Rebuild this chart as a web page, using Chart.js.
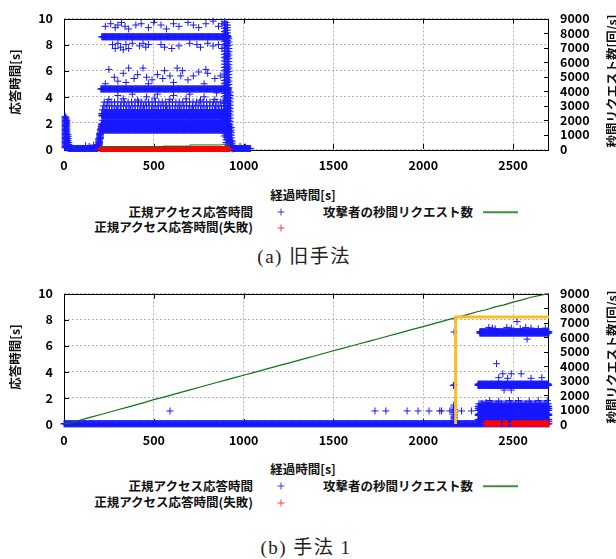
<!DOCTYPE html>
<html><head><meta charset="utf-8">
<script src="https://cdn.jsdelivr.net/npm/chart.js@4.4.1/dist/chart.umd.min.js"></script>
<style>
html,body{margin:0;padding:0;background:#fff;width:616px;height:559px;overflow:hidden;position:relative}
canvas{position:absolute;left:0}
.t{position:absolute;font-family:"Noto Sans CJK JP","Noto Sans",sans-serif;font-weight:bold;font-size:12.5px;color:#111;white-space:nowrap;line-height:1}
.c{transform:translate(-50%,-50%)}
.r{transform:translate(-100%,-50%)}
.rot{transform:translate(-50%,-50%) rotate(-90deg)}
.cap{position:absolute;font-family:"Liberation Serif","DejaVu Serif","Noto Sans CJK JP",serif;font-size:19px;letter-spacing:1.5px;color:#222;white-space:nowrap;line-height:1;transform:translate(-50%,-50%)}
.mk{position:absolute;width:7px;height:7px;transform:translate(-50%,-50%)}
.mk:before{content:"";position:absolute;left:0;top:3px;width:7px;height:1px;background:currentColor}
.mk:after{content:"";position:absolute;left:3px;top:0;width:1px;height:7px;background:currentColor}
.ln{position:absolute;height:1.5px;background:#3c923c;transform:translateY(-50%)}
</style></head><body>
<canvas id="cv1" width="616" height="180" style="top:0px;width:616px;height:180px"></canvas>
<canvas id="cv2" width="616" height="180" style="top:275px;width:616px;height:180px"></canvas>

<div class="t rot" style="left:15px;top:82px">応答時間[s]</div>
<div class="t rot" style="left:612px;top:81px">秒間リクエスト数[回/s]</div>
<div class="t c" style="left:303px;top:195px">経過時間[s]</div>
<div class="t r" style="left:253px;top:212px">正規アクセス応答時間</div>
<div class="mk" style="left:281px;top:212px;color:#3a3aff"></div>
<div class="t r" style="left:473px;top:212px">攻撃者の秒間リクエスト数</div>
<div class="ln" style="left:483px;top:212px;width:35px"></div>
<div class="t r" style="left:253px;top:227px">正規アクセス応答時間(失敗)</div>
<div class="mk" style="left:281px;top:228px;color:#ff4040"></div>
<div class="cap" style="left:304px;top:256px">(a) 旧手法</div>

<div class="t rot" style="left:15px;top:357px">応答時間[s]</div>
<div class="t rot" style="left:612px;top:357px">秒間リクエスト数[回/s]</div>
<div class="t c" style="left:303px;top:469px">経過時間[s]</div>
<div class="t r" style="left:253px;top:486px">正規アクセス応答時間</div>
<div class="mk" style="left:281px;top:486px;color:#3a3aff"></div>
<div class="t r" style="left:473px;top:486px">攻撃者の秒間リクエスト数</div>
<div class="ln" style="left:483px;top:486px;width:35px"></div>
<div class="t r" style="left:253px;top:502px">正規アクセス応答時間(失敗)</div>
<div class="mk" style="left:281px;top:503px;color:#ff4040"></div>
<div class="cap" style="left:306px;top:547px">(b) 手法 1</div>

<script>
// ---------- axis ticks ----------
const xTicks = [0, 500, 1000, 1500, 2000, 2500];
const yTicksLeft = [0, 2, 4, 6, 8, 10];
const yTicksRight = [0, 1000, 2000, 3000, 4000, 5000, 6000, 7000, 8000, 9000];

// ---------- (a) 旧手法 ----------
// attacker requests per second (right axis)
const attackTimeA = [200, 550, 552, 700, 702, 880, 882, 915, 920];
const attackRateA = [150, 150, 200, 200, 280, 280, 330, 330, 0];
// dense bands of legitimate response times: [start s, end s, step s, value s]
const okBandsA = [
  [30, 186, 3, 0.04], [940, 1040, 3, 0.04],
  [212, 918, 3, 1.45], [206, 918, 3, 1.6], [207, 918, 3, 1.75], [208, 916, 3, 1.9],
  [215, 912, 9, 2.2],
  [210, 914, 3, 2.55], [210, 914, 3, 2.7],
  [214, 905, 13, 3.0], [219, 905, 16, 3.3], [224, 905, 19, 3.6],
  [205, 918, 3, 4.6],
  [210, 915, 3, 8.6]
];
// vertical columns of points: [time s, from value, to value, step]
const okColumnsA = [
  [6, 0.1, 2.5, 0.1], [11, 0.1, 2.4, 0.1], [16, 0.1, 2.2, 0.15], [22, 0.05, 1.2, 0.15], [27, 0.05, 0.5, 0.15],
  [188, 0.05, 0.4, 0.1], [193, 0.1, 0.8, 0.1], [198, 0.3, 1.2, 0.1], [203, 0.8, 1.5, 0.1],
  [893, 1.0, 9.9, 0.25], [902, 0.5, 9.8, 0.2], [910, 0.3, 9.6, 0.2], [918, 0.2, 8.5, 0.25],
  [925, 0.1, 4.5, 0.25], [931, 0.05, 1.8, 0.2], [936, 0.0, 0.6, 0.15]
];
// scattered single responses
const okOutliersA = [
  [230,9.4],[260,9.6],[285,9.3],[300,9.5],[320,9.7],[340,9.4],[360,9.2],[400,9.5],[430,9.6],[470,9.3],
  [500,9.7],[540,9.5],[570,9.2],[610,9.6],[640,9.4],[690,9.7],[720,9.5],[750,9.3],[790,9.6],[830,9.8],[860,9.4],[880,9.6],
  [270,8.0],[285,7.7],[300,8.1],[315,7.8],[330,7.6],[345,8.0],[360,7.7],[380,8.1],[420,7.9],[440,8.1],[455,7.8],
  [470,8.0],[540,8.0],[560,7.8],[600,7.7],[640,7.9],[700,8.1],[740,8.0],[760,7.8],[800,8.1],[830,7.9],[860,8.0],[880,7.7],
  [250,6.1],[280,5.5],[300,5.2],[330,5.8],[360,6.2],[390,5.4],[410,5.7],[440,6.2],[460,5.5],[490,5.3],[520,5.7],
  [550,5.4],[590,5.6],[630,6.2],[660,6.0],[690,5.3],[720,5.6],[750,5.9],[790,6.1],[800,5.8],[840,5.4],[870,5.6],
  [230,5.0],[345,5.1],[470,5.0],[610,5.1],[780,5.0],[650,5.6],[560,6.0],
  [300,4.1],[380,4.2],[460,4.0],[520,4.2],[610,4.1],[700,4.2],[780,4.0],[850,4.3],
  [250,3.8],[330,3.85],[410,3.75],[505,3.9],[590,3.8],[680,3.85],[760,3.75],[840,3.8],
  [120,0.25],[140,0.2],[165,0.3],[980,0.2],[1010,0.15]
];
// failed responses: [start, end, step, value]
const ngBandsA = [[200, 922, 2, 0.0]];

// ---------- (b) 手法 1 ----------
const attackTimeB = [0,50,100,150,200,250,300,350,400,450,500,550,600,650,700,750,800,850,900,950,1000,
  1050,1100,1150,1200,1250,1300,1350,1400,1450,1500,1550,1600,1650,1700,1750,1800,1850,1900,1950,2000,
  2050,2100,2150,2200,2250,2300,2350,2400,2450,2500,2550,2600,2650,2700];
const attackRateB = [0,120,300,470,640,810,980,1150,1320,1490,1680,1840,2010,2180,2350,2520,2690,2860,3030,3200,3360,
  3530,3700,3870,4040,4200,4370,4540,4710,4880,5050,5210,5380,5550,5720,5880,6050,6220,6390,6560,6720,
  6890,7060,7230,7390,7560,7740,7880,8080,8220,8410,8560,8740,8870,9000];
const okBandsB = [
  [0, 2700, 3, 0.02],
  [2306, 2700, 3, 0.2], [2306, 2700, 3, 0.35], [2306, 2700, 3, 0.65], [2306, 2700, 3, 0.75],
  [2306, 2700, 3, 1.05], [2306, 2700, 3, 1.2], [2306, 2700, 3, 1.35],
  [2310, 2700, 7, 1.55],
  [2305, 2700, 3, 2.95], [2305, 2700, 3, 3.05],
  [2315, 2700, 3, 6.97], [2315, 2700, 3, 7.07]
];
const okColumnsB = [
  [2170, 0.1, 1.5, 0.15], [2174, 0.1, 1.2, 0.2]
];
const okOutliersB = [
  [590,1.0],[1731,1.0],[1792,1.0],[1910,1.0],[1971,1.0],[2032,1.0],[2092,1.0],[2102,1.0],[2148,1.0],[2213,1.0],[2269,1.0],
  [2172,3.0],[2168,2.95],[2172,7.05],
  [2522,7.85],[2578,6.5],[2408,4.62],
  [2365,7.4],[2385,7.35],[2400,7.3],[2465,7.4],[2490,7.35],[2540,7.3],[2570,7.4],[2600,7.35],[2640,7.3],[2680,7.35],
  [2443,3.85],[2490,3.85],[2545,3.85],[2420,3.55],[2470,3.5],[2600,3.5],[2660,3.55],[2450,2.6],[2490,2.6],
  [2370,1.8],[2420,1.75],[2480,1.8],[2530,1.8],[2590,1.75],[2640,1.8],[2690,1.8],[2350,1.65]
];
const ngBandsB = [[2343, 2430, 2, 0.03], [2445, 2470, 2, 0.03], [2492, 2700, 2, 0.03]];
// highlighted region (orange frame)
const frameTimeB = [2180, 2180, 2700];
const frameValueB = [0, 8.2, 8.2];

// ---------- helpers ----------
function expandBands(b){const p=[];for(const [t0,t1,s,v] of b){for(let t=t0;t<=t1;t+=s)p.push({x:t,y:v});}return p;}
function expandColumns(c){const p=[];for(const [t,a,b,s] of c){for(let v=a;v<=b+1e-9;v+=s)p.push({x:t,y:v});}return p;}
function pairs(list){return list.map(([x,y])=>({x,y}));}
function zipXY(xs,ys){return xs.map((x,i)=>({x,y:ys[i]}));}

const BLUE='rgb(25,25,255)', RED='rgb(255,0,0)', GREEN='#0d760d', ORANGE='#fbbd23';
const tickFont={family:'"Noto Sans CJK JP","Noto Sans",sans-serif',size:12.5,weight:'bold'};

const framePlugin={
  id:'frame',
  beforeDatasetsDraw(chart){
    const {ctx,chartArea:a,scales}=chart;
    ctx.save();
    ctx.strokeStyle='#000';ctx.lineWidth=1;
    ctx.strokeRect(Math.round(a.left)+0.5,Math.round(a.top)+0.5,Math.round(a.right-a.left)-1,Math.round(a.bottom-a.top));
    ctx.beginPath();
    for(const v of xTicks){const x=Math.round(scales.x.getPixelForValue(v))+0.5;if(v===0)continue;
      ctx.moveTo(x,a.bottom);ctx.lineTo(x,a.bottom-5);ctx.moveTo(x,a.top);ctx.lineTo(x,a.top+5);}
    for(const v of yTicksLeft){const y=Math.round(scales.y.getPixelForValue(v))+0.5;if(v===0||v===10)continue;
      ctx.moveTo(a.left,y);ctx.lineTo(a.left+5,y);}
    for(const v of yTicksRight){const y=Math.round(scales.y2.getPixelForValue(v))+0.5;if(v===0)continue;
      ctx.moveTo(a.right,y);ctx.lineTo(a.right-5,y);}
    ctx.stroke();ctx.restore();
  }
};

function makeChart(id,datasets){
  return new Chart(document.getElementById(id),{
    type:'scatter',
    data:{datasets},
    options:{
      responsive:false,animation:false,devicePixelRatio:1,events:[],
      layout:{padding:{top:12,left:0,right:0,bottom:0}},
      plugins:{legend:{display:false},tooltip:{enabled:false}},
      scales:{
        x:{type:'linear',min:0,max:2700,position:'bottom',
          afterFit(s){s.height=31;},
          afterBuildTicks(s){s.ticks=xTicks.map(v=>({value:v}));},
          grid:{color:'#b4b4b4',drawTicks:false,lineWidth:1},
          border:{display:false,dash:[2,2]},
          ticks:{padding:9,font:tickFont,color:'#000',maxRotation:0,autoSkip:false,callback:v=>String(v)}},
        y:{type:'linear',min:0,max:10,position:'left',
          afterFit(s){s.width=64;},
          afterBuildTicks(s){s.ticks=yTicksLeft.map(v=>({value:v}));},
          grid:{color:'#b4b4b4',drawTicks:false,lineWidth:1},
          border:{display:false,dash:[2,2]},
          ticks:{padding:11,font:tickFont,color:'#000',autoSkip:false,callback:v=>String(v)}},
        y2:{type:'linear',min:0,max:9000,position:'right',
          afterFit(s){s.width=67;},
          afterBuildTicks(s){s.ticks=yTicksRight.map(v=>({value:v}));},
          grid:{display:false,drawTicks:false},
          border:{display:false},
          ticks:{padding:11,font:tickFont,color:'#000',autoSkip:false,callback:v=>String(v)}}
      }
    },
    plugins:[framePlugin]
  });
}

function pointSet(data,color,order,r){
  return {data,showLine:false,pointStyle:'cross',pointRadius:r||3.5,pointBorderWidth:1,
    borderColor:color,backgroundColor:color,order,clip:6,yAxisID:'y'};
}

makeChart('cv1',[
  pointSet(expandBands(okBandsA).concat(expandColumns(okColumnsA),pairs(okOutliersA)),BLUE,3),
  pointSet(expandBands(ngBandsA),RED,2,3),
  {data:zipXY(attackTimeA,attackRateA),showLine:true,pointRadius:0,borderColor:GREEN,borderWidth:1,
    stepped:'before',order:1,yAxisID:'y2',clip:2}
]);

makeChart('cv2',[
  pointSet(expandBands(okBandsB).concat(expandColumns(okColumnsB),pairs(okOutliersB)),BLUE,3),
  pointSet(expandBands(ngBandsB),RED,2,3),
  {data:zipXY(attackTimeB,attackRateB),showLine:true,pointRadius:0,borderColor:GREEN,borderWidth:1.2,
    tension:0,order:1,yAxisID:'y2',clip:2},
  {data:zipXY(frameTimeB,frameValueB),showLine:true,pointRadius:0,borderColor:ORANGE,borderWidth:3,
    order:0,yAxisID:'y',clip:4}
]);
</script>
</body></html>
